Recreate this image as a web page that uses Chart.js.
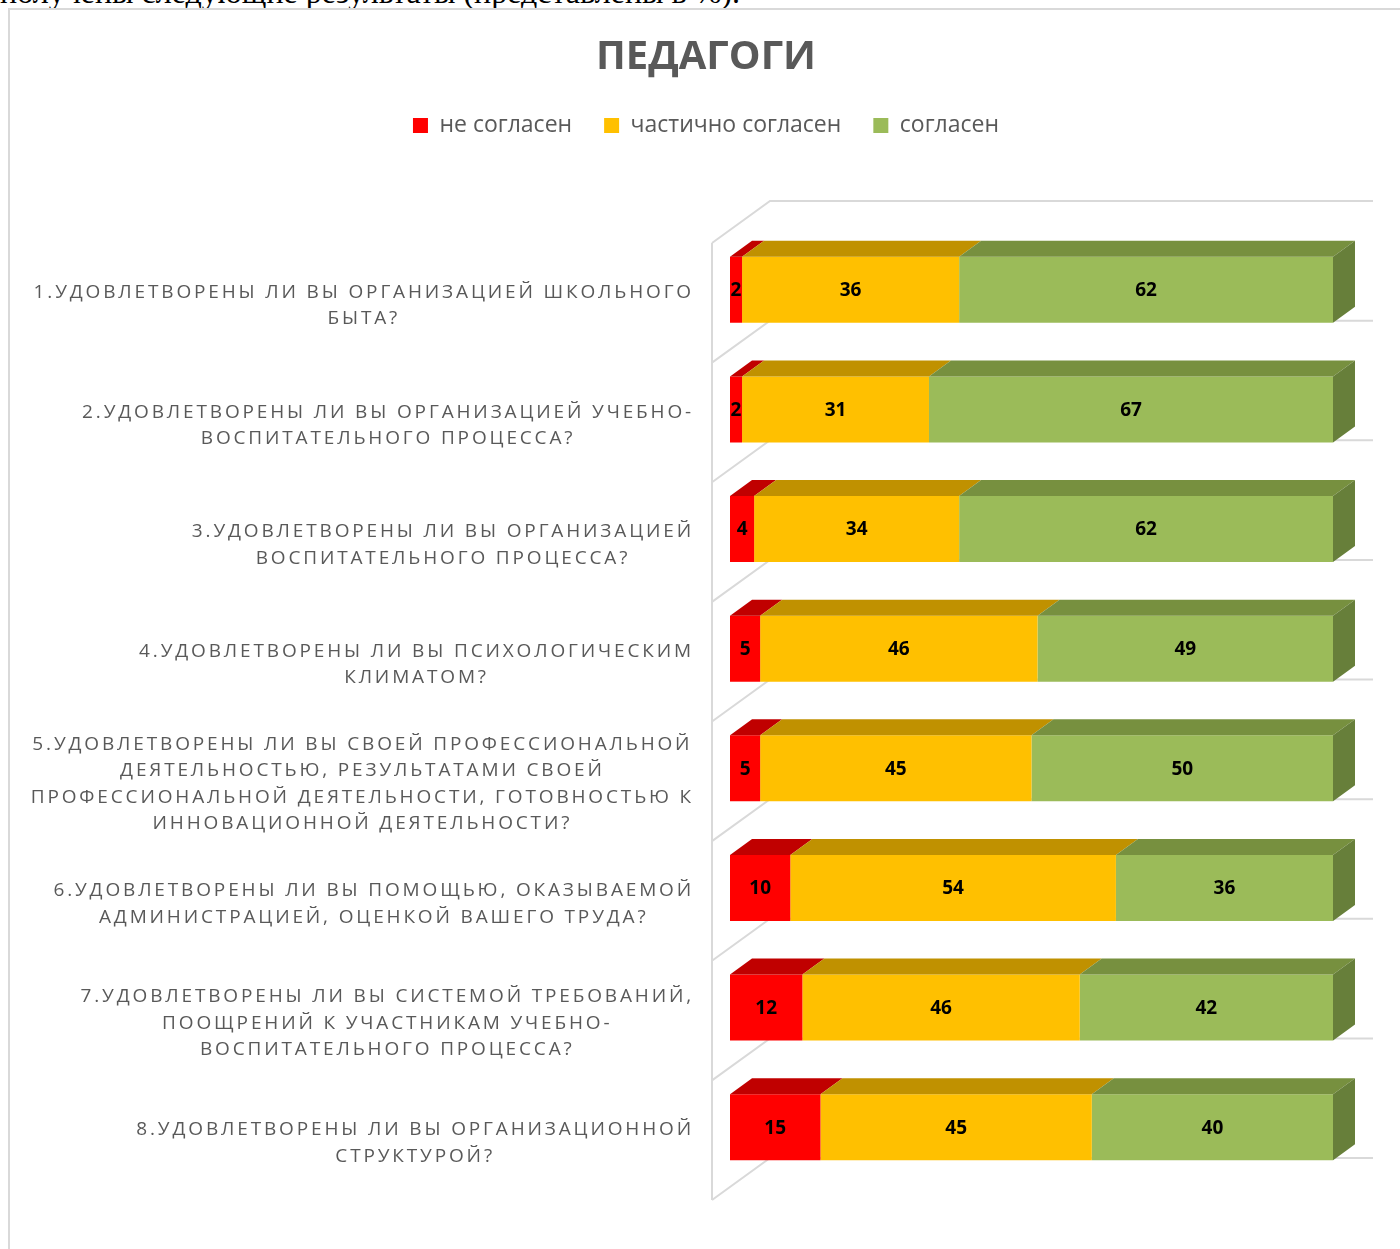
<!DOCTYPE html>
<html>
<head>
<meta charset="utf-8">
<script src="https://cdn.jsdelivr.net/npm/chart.js@4.4.1/dist/chart.umd.min.js"></script>
<style>
  html, body { margin: 0; padding: 0; background: #fff; overflow: hidden; }
  body { width: 1400px; height: 1249px; position: relative; }
  #doc { position: absolute; left: 0; top: -24px; font: 32px "Liberation Serif"; line-height: 32px; white-space: nowrap; color: #000; }
  #frame { position: absolute; left: 8px; top: 8px; width: 1420px; height: 1300px; border: 2px solid #d9d9d9; box-sizing: border-box; }
  #wrap { position: absolute; left: 0; top: 0; width: 1400px; height: 1249px; }
</style>
</head>
<body>
<div id="doc">получены следующие результаты (представлены в %).</div>
<div id="frame"></div>
<div id="wrap"><canvas id="myChart" width="1400" height="1249"></canvas></div>
<script>
const ctx = document.getElementById('myChart');

// questions, one line per array item (as broken in the original)
const questions = [
  ['1.УДОВЛЕТВОРЕНЫ ЛИ ВЫ ОРГАНИЗАЦИЕЙ ШКОЛЬНОГО', 'БЫТА?'],
  ['2.УДОВЛЕТВОРЕНЫ ЛИ ВЫ ОРГАНИЗАЦИЕЙ УЧЕБНО-', 'ВОСПИТАТЕЛЬНОГО ПРОЦЕССА?'],
  ['3.УДОВЛЕТВОРЕНЫ ЛИ ВЫ ОРГАНИЗАЦИЕЙ', 'ВОСПИТАТЕЛЬНОГО ПРОЦЕССА?'],
  ['4.УДОВЛЕТВОРЕНЫ ЛИ ВЫ ПСИХОЛОГИЧЕСКИМ', 'КЛИМАТОМ?'],
  ['5.УДОВЛЕТВОРЕНЫ ЛИ ВЫ СВОЕЙ ПРОФЕССИОНАЛЬНОЙ', 'ДЕЯТЕЛЬНОСТЬЮ, РЕЗУЛЬТАТАМИ СВОЕЙ', 'ПРОФЕССИОНАЛЬНОЙ ДЕЯТЕЛЬНОСТИ, ГОТОВНОСТЬЮ К', 'ИННОВАЦИОННОЙ ДЕЯТЕЛЬНОСТИ?'],
  ['6.УДОВЛЕТВОРЕНЫ ЛИ ВЫ ПОМОЩЬЮ, ОКАЗЫВАЕМОЙ', 'АДМИНИСТРАЦИЕЙ, ОЦЕНКОЙ ВАШЕГО ТРУДА?'],
  ['7.УДОВЛЕТВОРЕНЫ ЛИ ВЫ СИСТЕМОЙ ТРЕБОВАНИЙ,', 'ПООЩРЕНИЙ К УЧАСТНИКАМ УЧЕБНО-', 'ВОСПИТАТЕЛЬНОГО ПРОЦЕССА?'],
  ['8.УДОВЛЕТВОРЕНЫ ЛИ ВЫ ОРГАНИЗАЦИОННОЙ', 'СТРУКТУРОЙ?']
];

const seriesNames = ['не согласен', 'частично согласен', 'согласен'];
const disagree = [2, 2, 4, 5, 5, 10, 12, 15];
const partly = [36, 31, 34, 46, 45, 54, 46, 45];
const agree = [62, 67, 62, 49, 50, 36, 42, 40];
const axisMax = 100;

const frontColors = ['#ff0000', '#ffc000', '#9bbb59'];
const topColors = ['#c00000', '#c09100', '#77903f'];
const sideColor = '#677f3a';

// 3d offsets
const barDX = 22, barDY = -16;      // depth of a bar
const frontDX = -18, frontDY = 13;  // front edge of the walls from bar front
const backDX = 40, backDY = -29;    // back wall from bar front

const depth3d = {
  id: 'depth3d',
  beforeDatasetsDraw(chart) {
    const c = chart.ctx;
    const xs = chart.scales.x, ys = chart.scales.y;
    const n = chart.data.labels.length;
    const band = ys.getPixelForValue(1) - ys.getPixelForValue(0);
    const x0 = xs.getPixelForValue(0), x1 = xs.getPixelForValue(axisMax);
    const first = ys.getPixelForValue(0) - band / 2;

    c.save();
    c.strokeStyle = '#d9d9d9';
    c.lineWidth = 2;
    for (let k = 0; k <= n; k++) {
      const yb = first + k * band;
      c.beginPath();
      c.moveTo(x0 + frontDX, yb + frontDY);
      c.lineTo(x0 + backDX, yb + backDY);
      c.lineTo(x1 + backDX, yb + backDY);
      c.stroke();
    }
    c.beginPath();
    c.moveTo(x0 + frontDX, first + frontDY);
    c.lineTo(x0 + frontDX, first + n * band + frontDY);
    c.stroke();

    // category labels
    c.font = '19px "Open Sans"';
    c.letterSpacing = '2.85px';
    c.fillStyle = '#595959';
    c.textAlign = 'center';
    c.textBaseline = 'middle';
    const lh = 26.5;
    const right = x0 + frontDX - 18;
    questions.forEach((lines, i) => {
      const w = Math.max(...lines.map(l => c.measureText(l).width));
      const cy = ys.getPixelForValue(i) + frontDY + 3;
      lines.forEach((l, j) => {
        c.fillText(l, right - w / 2, cy + (j - (lines.length - 1) / 2) * lh);
      });
    });
    c.restore();
  },
  afterDatasetsDraw(chart) {
    const c = chart.ctx;
    const last = chart.data.datasets.length - 1;
    c.save();
    chart.data.datasets.forEach((ds, d) => {
      chart.getDatasetMeta(d).data.forEach(bar => {
        const p = bar.getProps(['x', 'y', 'base', 'height'], true);
        const l = Math.min(p.x, p.base), r = Math.max(p.x, p.base);
        const t = p.y - p.height / 2, b = p.y + p.height / 2;
        c.fillStyle = topColors[d];
        c.beginPath();
        c.moveTo(l, t); c.lineTo(r, t); c.lineTo(r + barDX, t + barDY); c.lineTo(l + barDX, t + barDY);
        c.closePath(); c.fill();
        if (d === last) {
          c.fillStyle = sideColor;
          c.beginPath();
          c.moveTo(r, t); c.lineTo(r + barDX, t + barDY); c.lineTo(r + barDX, b + barDY); c.lineTo(r, b);
          c.closePath(); c.fill();
        }
      });
    });
    // value labels
    c.font = 'bold 19px "Open Sans"';
    c.fillStyle = '#000';
    c.textAlign = 'center';
    c.textBaseline = 'middle';
    chart.data.datasets.forEach((ds, d) => {
      chart.getDatasetMeta(d).data.forEach((bar, i) => {
        const p = bar.getProps(['x', 'y', 'base'], true);
        c.fillText(String(ds.data[i]), (p.x + p.base) / 2, p.y + 1);
      });
    });
    c.restore();
  }
};

function draw() {
  new Chart(ctx, {
    type: 'bar',
    data: {
      labels: questions,
      datasets: [
        { label: seriesNames[0], data: disagree, backgroundColor: frontColors[0] },
        { label: seriesNames[1], data: partly, backgroundColor: frontColors[1] },
        { label: seriesNames[2], data: agree, backgroundColor: frontColors[2] }
      ]
    },
    options: {
      indexAxis: 'y',
      responsive: false,
      animation: false,
      events: [],
      categoryPercentage: 1,
      barPercentage: 0.552,
      layout: { padding: { left: 12, right: 0, top: 0, bottom: 62 } },
      scales: {
        x: {
          stacked: true, min: 0, max: axisMax, position: 'top',
          grid: { display: false }, border: { display: false },
          ticks: { display: false },
          afterFit: s => { s.height = 83; }
        },
        y: {
          stacked: true,
          grid: { display: false }, border: { display: false },
          ticks: { display: false },
          afterFit: s => { s.width = 718; }
        },
        y2: {
          position: 'right',
          grid: { display: false }, border: { display: false },
          ticks: { display: false },
          afterFit: s => { s.width = 67; }
        }
      },
      plugins: {
        title: {
          display: true,
          text: 'ПЕДАГОГИ',
          color: '#595959',
          font: { family: 'Open Sans', size: 40, weight: 'bold' },
          padding: { top: 34, bottom: 0 }
        },
        legend: {
          position: 'top',
          labels: {
            boxWidth: 15, boxHeight: 15, padding: 32,
            color: '#595959',
            font: { family: 'Open Sans', size: 23 }
          }
        },
        tooltip: { enabled: false }
      }
    },
    plugins: [depth3d]
  });
}
draw();
</script>
</body>
</html>
